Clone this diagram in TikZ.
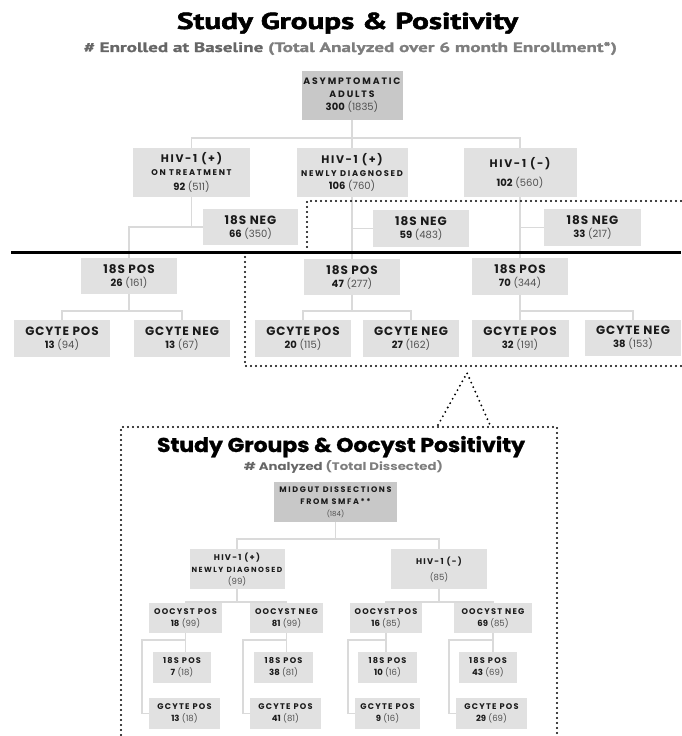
\documentclass[tikz,border=0pt]{standalone}
\usepackage{fontspec}
\usepackage{graphicx}
\setmainfont{Poppins}
\newfontfamily\lsA[LetterSpace=8]{Poppins}
\newfontfamily\lsB[LetterSpace=15]{Poppins}
\newfontfamily\lsC[LetterSpace=20]{Poppins}
\newfontfamily\condfont[BoldFeatures={FakeBold=2}]{PT Sans}
\newfontfamily\subfont[BoldFeatures={FakeBold=1}]{PT Sans}
\newfontfamily\heavypop[BoldFeatures={FakeBold=1.2}]{Poppins}
\definecolor{boxlight}{HTML}{E1E1E1}
\definecolor{boxdark}{HTML}{C8C8C8}
\definecolor{connc}{HTML}{DADADA}
\definecolor{numgray}{HTML}{505050}
\definecolor{subA}{HTML}{666666}
\definecolor{subB}{HTML}{7E7E7E}
\definecolor{labc}{HTML}{1A1A1A}
\newcommand\lab[3]{{#1\bfseries\fontsize{#2}{13}\selectfont #3}}
\newcommand\nm[3][10]{{\fontsize{#1}{13}\selectfont\textbf{#2} {\color{numgray}(#3)}}}
\tikzset{
  box/.style={fill=boxlight, inner sep=0pt, align=center, text=labc, font=\fontsize{10}{13}\selectfont},
  dbox/.style={box, fill=boxdark},
  lbox/.style={box, font=\fontsize{8.5}{12}\selectfont},
  ldbox/.style={lbox, fill=boxdark},
  conn/.style={draw=connc, line width=1.6pt},
  dots/.style={line width=2.1pt, dash pattern=on 0pt off 5pt, line cap=round},
}
\begin{document}
\begin{tikzpicture}[x=1pt,y=-1pt]
\useasboundingbox (0,0) rectangle (681,736);

% ---------- titles ----------
\node[anchor=base, inner sep=0pt] (title1) at (347.5,29)
  {\resizebox{341pt}{16.5pt}{\condfont\bfseries Study Groups \& Positivity}};
\node[anchor=base, inner sep=0pt] (sub1) at (350.5,52)
  {\resizebox{533pt}{10pt}{\subfont\bfseries\color{subA}\# Enrolled at Baseline {\color{subB}(Total Analyzed over 6 month Enrollment*)}}};

% ---------- upper tree ----------
\node[dbox, minimum width=101pt, minimum height=49pt] (root) at (352,95.5)
  {\lab\lsC{9.3}{ASYMPTOMATIC}\\\lab\lsC{9.3}{ADULTS}\\\nm{300}{1835}};

\node[box, minimum width=117pt, minimum height=49pt] (hivT) at (191.5,172.5)
  {\lab\lsB{11}{HIV-1 (+)}\\\lab\lsC{8.3}{ON TREATMENT}\\[2pt]\nm{92}{511}};
\node[box, minimum width=111pt, minimum height=49pt] (hivN) at (352,172.5)
  {\lab\lsB{11}{HIV-1 (+)}\\\lab\lsC{8.3}{NEWLY DIAGNOSED}\\\nm{106}{760}};
\node[box, minimum width=113pt, minimum height=49pt] (hivM) at (520,172.5)
  {\lab\lsB{11}{HIV-1 (-)}\\[6pt]\nm{102}{560}};

\node[box, minimum width=95pt, minimum height=36pt] (negT) at (250.5,227)
  {\lab\lsA{12}{18S NEG}\\\nm{66}{350}};
\node[box, minimum width=96pt, minimum height=37pt] (negN) at (421,228.5)
  {\lab\lsA{12}{18S NEG}\\\nm{59}{483}};
\node[box, minimum width=97pt, minimum height=37pt] (negM) at (592.5,227.5)
  {\lab\lsA{12}{18S NEG}\\\nm{33}{217}};

\node[box, minimum width=96pt, minimum height=36pt] (posT) at (129,276)
  {\lab\lsA{12}{18S POS}\\\nm{26}{161}};
\node[box, minimum width=96pt, minimum height=36pt] (posN) at (352,277)
  {\lab\lsA{12}{18S POS}\\\nm{47}{277}};
\node[box, minimum width=96pt, minimum height=37pt] (posM) at (520,276.5)
  {\lab\lsA{12}{18S POS}\\\nm{70}{344}};

\node[box, minimum width=96pt, minimum height=37pt] (gTp) at (62,338.5)
  {\lab\lsA{12}{GCYTE POS}\\\nm{13}{94}};
\node[box, minimum width=96pt, minimum height=37pt] (gTn) at (182,338.5)
  {\lab\lsA{12}{GCYTE NEG}\\\nm{13}{67}};
\node[box, minimum width=96pt, minimum height=37pt] (gNp) at (303,338.5)
  {\lab\lsA{12}{GCYTE POS}\\\nm{20}{115}};
\node[box, minimum width=96pt, minimum height=37pt] (gNn) at (411,338.5)
  {\lab\lsA{12}{GCYTE NEG}\\\nm{27}{162}};
\node[box, minimum width=97pt, minimum height=37pt] (gMp) at (520,338.5)
  {\lab\lsA{12}{GCYTE POS}\\\nm{32}{191}};
\node[box, minimum width=96pt, minimum height=36pt] (gMn) at (633,338)
  {\lab\lsA{12}{GCYTE NEG}\\\nm{38}{153}};

% upper connectors
\draw[conn] (root.south) -- ++(0,18) -| (hivT.north);
\draw[conn] (root.south) -- (hivN.north);
\draw[conn] (root.south) ++(0,18) -| (hivM.north);

\draw[conn] (hivT.south) |- (negT.west);
\draw[conn] (hivT.south |- negT.west) -| (posT.north);
\draw[conn] (hivN.south) -- (posN.north);
\draw[conn] (hivN.south |- negN.west) -- (negN.west);
\draw[conn] (hivM.south) -- (posM.north);
\draw[conn] (hivM.south |- negM.west) -- (negM.west);

\draw[conn] (posT.south) -- ++(0,17) -| (gTp.north);
\draw[conn] (posT.south) ++(0,17) -| (gTn.north);
\draw[conn] (posN.south) -- ++(0,16) -| (gNp.north);
\draw[conn] (posN.south) ++(0,16) -| (gNn.north);
\draw[conn] (posM.south) -- (gMp.north);
\draw[conn] (posM.south) ++(0,16) -| (gMn.north);

% divider and dotted outlines
\draw[line width=3pt] (11,252) -- (681,252);
\draw[dots] (681,201) -- (307,201) -- (307,250);
\draw[dots] (245,257) -- (245,366) -- (681,366);
\draw[dots] (438,425) -- (467,373) -- (490,425);
\draw[dots] (121,740) -- (121,427) -- (557,427) -- (557,740);

% ---------- lower panel ----------
\node[anchor=base, inner sep=0pt] (title2) at (341,452)
  {\resizebox{368pt}{16pt}{\heavypop\bfseries Study Groups \& Oocyst Positivity}};
\node[anchor=base, inner sep=0pt] (sub2) at (343.5,470)
  {\resizebox{199pt}{10pt}{\bfseries\color{subA}\# Analyzed {\color{subB}(Total Dissected)}}};

\node[ldbox, minimum width=123pt, minimum height=40pt] (mid) at (335.5,502)
  {\lab\lsC{8}{MIDGUT DISSECTIONS}\\\lab\lsC{8}{FROM SMFA**}\\{\fontsize{7}{12}\selectfont\color{numgray}(184)}};

\node[lbox, minimum width=95pt, minimum height=40pt] (hivN2) at (237,569)
  {\lab\lsB{8.3}{HIV-1 (+)}\\\lab\lsC{7.4}{NEWLY DIAGNOSED}\\{\color{numgray}(99)}};
\node[lbox, minimum width=96pt, minimum height=40pt] (hivM2) at (439,569)
  {\lab\lsB{8.3}{HIV-1 (-)}\\[4pt]{\color{numgray}(85)}};

\node[lbox, minimum width=73pt, minimum height=30pt] (oP1) at (185.5,618)
  {\lab\lsB{8.2}{OOCYST POS}\\\nm[8.5]{18}{99}};
\node[lbox, minimum width=73pt, minimum height=30pt] (oN1) at (286.5,618)
  {\lab\lsB{8.2}{OOCYST NEG}\\\nm[8.5]{81}{99}};
\node[lbox, minimum width=72pt, minimum height=30pt] (oP2) at (386,618)
  {\lab\lsB{8.2}{OOCYST POS}\\\nm[8.5]{16}{85}};
\node[lbox, minimum width=78pt, minimum height=30pt] (oN2) at (493,618)
  {\lab\lsB{8.2}{OOCYST NEG}\\\nm[8.5]{69}{85}};

\node[lbox, minimum width=58pt, minimum height=31pt] (s1) at (182,667.5)
  {\lab\lsB{8.2}{18S POS}\\\nm[8.5]{7}{18}};
\node[lbox, minimum width=59pt, minimum height=31pt] (s2) at (283.5,667.5)
  {\lab\lsB{8.2}{18S POS}\\\nm[8.5]{38}{81}};
\node[lbox, minimum width=59pt, minimum height=31pt] (s3) at (387.5,667.5)
  {\lab\lsB{8.2}{18S POS}\\\nm[8.5]{10}{16}};
\node[lbox, minimum width=58pt, minimum height=31pt] (s4) at (488,667.5)
  {\lab\lsB{8.2}{18S POS}\\\nm[8.5]{43}{69}};

\node[lbox, minimum width=71pt, minimum height=31pt] (g1) at (184.5,713.5)
  {\lab\lsB{8.2}{GCYTE POS}\\\nm[8.5]{13}{18}};
\node[lbox, minimum width=71pt, minimum height=31pt] (g2) at (285.5,713.5)
  {\lab\lsB{8.2}{GCYTE POS}\\\nm[8.5]{41}{81}};
\node[lbox, minimum width=65pt, minimum height=31pt] (g3) at (387.5,713.5)
  {\lab\lsB{8.2}{GCYTE POS}\\\nm[8.5]{9}{16}};
\node[lbox, minimum width=71pt, minimum height=31pt] (g4) at (491.5,713.5)
  {\lab\lsB{8.2}{GCYTE POS}\\\nm[8.5]{29}{69}};

% lower connectors
\draw[conn] (mid.south) -- ++(0,17) -| (hivN2.north);
\draw[conn] (mid.south) ++(0,17) -| (hivM2.north);
\draw[conn] (hivN2.south) -- ++(0,13) -| (oP1.north);
\draw[conn] (hivN2.south) ++(0,13) -| (oN1.north);
\draw[conn] (hivM2.south) -- ++(0,13) -| (oP2.north);
\draw[conn] (hivM2.south) ++(0,13) -| (oN2.north);

\foreach \o/\s/\g in {oP1/s1/g1, oN1/s2/g2, oP2/s3/g3, oN2/s4/g4}{
  \draw[conn] (\o.south) -- (\o.south |- \s.north);
  \draw[conn] ([yshift=-7pt]\o.south) -| ([xshift=-7pt]\g.west) -- (\g.west);
}
\end{tikzpicture}
\end{document}
